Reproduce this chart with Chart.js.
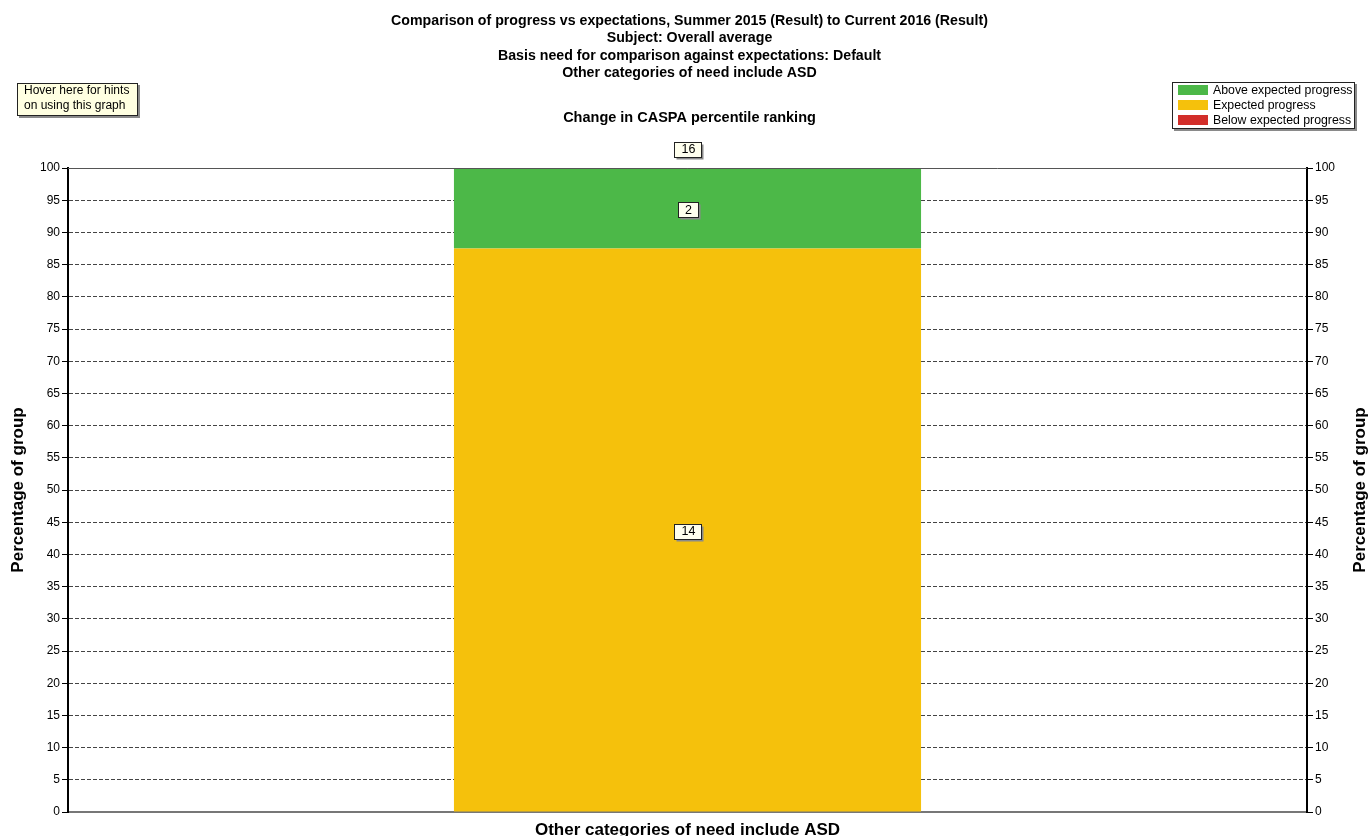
<!DOCTYPE html>
<html>
<head>
<meta charset="utf-8">
<title>Change in CASPA percentile ranking</title>
<script src="https://cdn.jsdelivr.net/npm/chart.js@4.4.1/dist/chart.umd.min.js"></script>
<style>
    body { margin: 0; background: #fff; }
    #wrap { width: 1372px; height: 836px; position: relative; }
</style>
</head>
<body>
<div id="wrap"><canvas id="progressChart"></canvas></div>
<script>
    const FONT = '"Liberation Sans", Arial, sans-serif';

    const titleLines = [
        'Comparison of progress vs expectations, Summer 2015 (Result) to Current 2016 (Result)',
        'Subject: Overall average',
        'Basis need for comparison against expectations: Default',
        'Other categories of need include ASD'
    ];
    const chartSubtitle = 'Change in CASPA percentile ranking';
    const axisTitle = 'Percentage of group';
    const hintLines = ['Hover here for hints', 'on using this graph'];

    const categories = ['Other categories of need include ASD'];
    const aboveCounts = [2];
    const expectedCounts = [14];
    const belowCounts = [0];
    const percentTicks = [0, 5, 10, 15, 20, 25, 30, 35, 40, 45, 50, 55, 60, 65, 70, 75, 80, 85, 90, 95, 100];

    const cores = { above: '#4cb848', expected: '#f5c10c', below: '#d22e2a' };

    // group totals, and each band as a share of its group
    const totals = categories.map((c, i) => aboveCounts[i] + expectedCounts[i] + belowCounts[i]);
    const asPercent = counts => counts.map((n, i) => totals[i] ? n / totals[i] * 100 : 0);

    function caixaValor(ctx, texto, cx, cy) {
        ctx.font = '12.5px ' + FONT;
        const w = Math.round(ctx.measureText(texto).width) + 13;
        const h = 15;
        const x = Math.round(cx - w / 2) + 0.5;
        const y = Math.round(cy - h / 2) + 0.5;
        ctx.fillStyle = '#8a8a8a';
        ctx.fillRect(x + 2, y + 2, w, h);
        ctx.fillStyle = '#ffffee';
        ctx.fillRect(x, y, w, h);
        ctx.strokeStyle = '#222';
        ctx.lineWidth = 1;
        ctx.strokeRect(x, y, w, h);
        ctx.fillStyle = '#000';
        ctx.textAlign = 'center';
        ctx.textBaseline = 'middle';
        ctx.fillText(texto, cx + 1, cy + 1);
    }

    function caixaSombra(ctx, x, y, w, h, fundo) {
        ctx.fillStyle = '#8a8a8a';
        ctx.fillRect(x + 2, y + 2, w, h);
        ctx.fillStyle = fundo;
        ctx.fillRect(x, y, w, h);
        ctx.strokeStyle = '#222';
        ctx.lineWidth = 1;
        ctx.strokeRect(x + 0.5, y + 0.5, w - 1, h - 1);
    }

    const rotulosPlugin = {
        id: 'rotulos',
        afterDatasetsDraw(chart) {
            const ctx = chart.ctx;
            const area = chart.chartArea;
            ctx.save();
            // solid top edge over the 100 gridline
            ctx.strokeStyle = '#555';
            ctx.lineWidth = 1;
            ctx.beginPath();
            ctx.moveTo(area.left, area.top + 0.5);
            ctx.lineTo(area.right, area.top + 0.5);
            ctx.stroke();

            const counts = [belowCounts, expectedCounts, aboveCounts];
            chart.data.datasets.forEach((ds, d) => {
                const meta = chart.getDatasetMeta(d);
                meta.data.forEach((bar, i) => {
                    const n = counts[d][i];
                    if (!n) return;
                    caixaValor(ctx, String(n), bar.x, (bar.y + bar.base) / 2 + 1);
                });
            });
            const topo = chart.getDatasetMeta(2).data;
            topo.forEach((bar, i) => {
                caixaValor(ctx, String(totals[i]), bar.x, area.top - 19);
            });
            ctx.restore();
        },
        afterDraw(chart) {
            const ctx = chart.ctx;
            const area = chart.chartArea;
            const cx = (area.left + area.right) / 2 + 2;
            ctx.save();
            ctx.fillStyle = '#000';
            ctx.textAlign = 'center';
            ctx.textBaseline = 'middle';
            ctx.font = 'bold 14.2px ' + FONT;
            titleLines.forEach((t, i) => ctx.fillText(t, cx, 21 + i * 17.4));
            ctx.font = 'bold 14.5px ' + FONT;
            ctx.fillText(chartSubtitle, cx, 118);

            // right axis title, reading upwards like the left one
            ctx.font = 'bold 17px ' + FONT;
            ctx.translate(1360, (area.top + area.bottom) / 2);
            ctx.rotate(-Math.PI / 2);
            ctx.fillText(axisTitle, 0, 0);
            ctx.setTransform(1, 0, 0, 1, 0, 0);

            // hints box
            caixaSombra(ctx, 17, 83, 121, 33, '#ffffe1');
            ctx.fillStyle = '#000';
            ctx.textAlign = 'left';
            ctx.font = '12px ' + FONT;
            hintLines.forEach((t, i) => ctx.fillText(t, 24, 91 + i * 15));

            // legend, top band first
            caixaSombra(ctx, 1172, 82, 183, 47, '#fff');
            ctx.font = '12.3px ' + FONT;
            const itens = chart.data.datasets.slice().reverse();
            itens.forEach((ds, i) => {
                const y = 90 + i * 15;
                ctx.fillStyle = ds.backgroundColor;
                ctx.fillRect(1178, y - 5, 30, 10);
                ctx.fillStyle = '#000';
                ctx.fillText(ds.label, 1213, y + 1);
            });
            ctx.restore();
        }
    };

    const ctx = document.getElementById('progressChart').getContext('2d');

    new Chart(ctx, {
        type: 'bar',
        data: {
            labels: categories,
            datasets: [
                { label: 'Below expected progress', data: asPercent(belowCounts), backgroundColor: cores.below },
                { label: 'Expected progress', data: asPercent(expectedCounts), backgroundColor: cores.expected },
                { label: 'Above expected progress', data: asPercent(aboveCounts), backgroundColor: cores.above }
            ]
        },
        options: {
            responsive: true,
            maintainAspectRatio: false,
            animation: false,
            layout: { padding: { top: 168, left: 0, right: 0, bottom: 0 } },
            datasets: {
                bar: { categoryPercentage: 1, barPercentage: 0.377, borderWidth: 0 }
            },
            plugins: {
                legend: { display: false },
                title: { display: false },
                tooltip: { enabled: false }
            },
            scales: {
                x: {
                    stacked: true,
                    grid: { display: false },
                    border: { display: true, color: '#777', width: 2 },
                    ticks: { color: '#000', padding: 0, font: { family: FONT, size: 17, weight: 'bold' } },
                    afterFit(scale) { scale.height = 24; }
                },
                y: {
                    stacked: true,
                    position: 'left',
                    min: 0,
                    max: 100,
                    afterBuildTicks(scale) { scale.ticks = percentTicks.map(v => ({ value: v })); },
                    afterFit(scale) { scale.width = 68; },
                    ticks: { color: '#000', padding: 2, font: { family: FONT, size: 12 } },
                    grid: { color: '#444', lineWidth: 1, tickLength: 6, tickColor: '#000' },
                    border: { display: true, color: '#000', width: 2, dash: [4, 2] },
                    title: {
                        display: true,
                        text: axisTitle,
                        color: '#000',
                        padding: { top: 8, bottom: 0 },
                        font: { family: FONT, size: 17, weight: 'bold' }
                    }
                },
                y2: {
                    position: 'right',
                    min: 0,
                    max: 100,
                    afterBuildTicks(scale) { scale.ticks = percentTicks.map(v => ({ value: v })); },
                    afterFit(scale) { scale.width = 65; },
                    ticks: { color: '#000', padding: 2, font: { family: FONT, size: 12 } },
                    grid: { drawOnChartArea: false, tickLength: 6, tickColor: '#000' },
                    border: { display: true, color: '#000', width: 2 }
                }
            }
        },
        plugins: [rotulosPlugin]
    });
</script>
</body>
</html>
